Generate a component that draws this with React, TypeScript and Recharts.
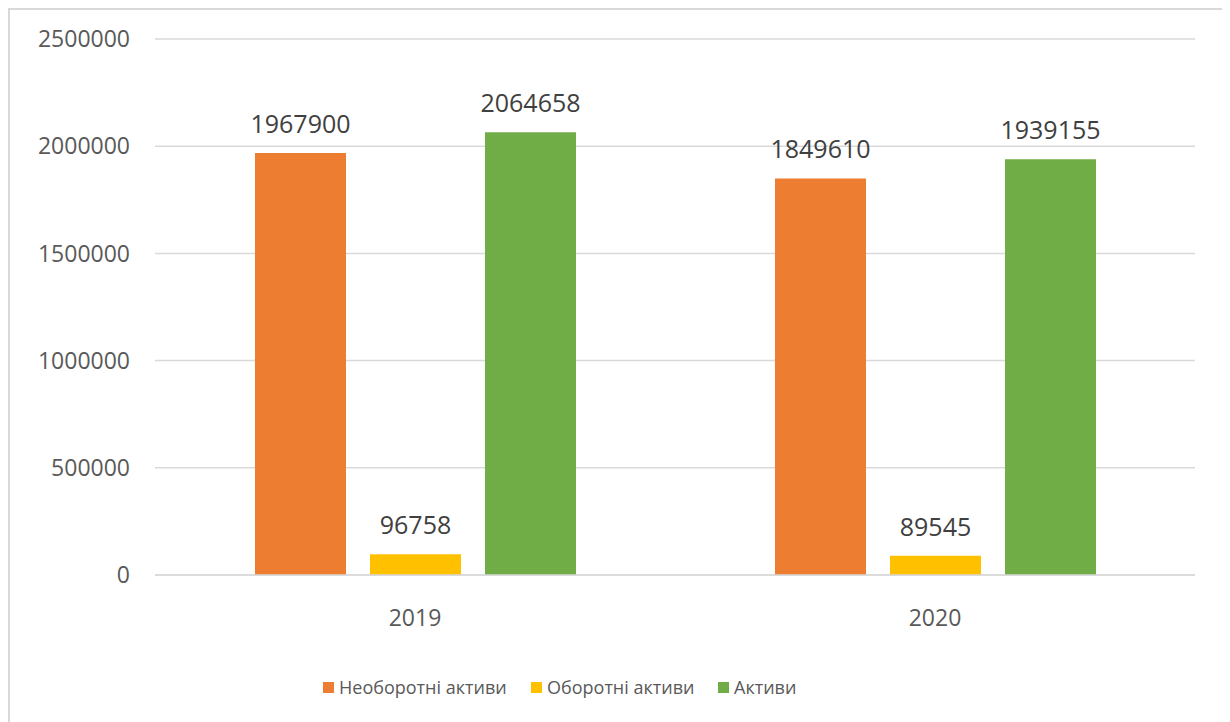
import React from 'react';
import { BarChart, Bar, XAxis, YAxis, CartesianGrid, Legend, LabelList } from 'recharts';

const categories = ['2019', '2020'];
const seriesNames = ['Необоротні активи', 'Оборотні активи', 'Активи'];
const nonCurrent = [1967900, 1849610];
const current = [96758, 89545];
const total = [2064658, 1939155];
const yTicks = [0, 500000, 1000000, 1500000, 2000000, 2500000];
const colors = ['#ED7D31', '#FFC000', '#70AD47'];

const data = categories.map((c, i) => ({
  year: c,
  s0: nonCurrent[i],
  s1: current[i],
  s2: total[i],
}));

const FONT = '"Open Sans", "Noto Sans", sans-serif';

const legendWidths = [208, 187, 120];

const renderLegend = (props: any) => {
  const { payload } = props;
  return (
    <div style={{ display: 'flex', fontFamily: FONT, fontSize: 18, color: '#595959' }}>
      {(payload || []).map((p: any, i: number) => (
        <div key={i} style={{ width: legendWidths[i], display: 'flex', alignItems: 'center' }}>
          <span style={{ display: 'inline-block', width: 11, height: 11, background: p.color, marginRight: 5 }} />
          <span style={{ lineHeight: '24px', whiteSpace: 'nowrap' }}>{p.value}</span>
        </div>
      ))}
    </div>
  );
};

export default function App() {
  return (
    <div style={{ width: 1212, height: 720, border: '2px solid #d9d9d9', background: '#fff' }}>
      <BarChart
        width={1212}
        height={720}
        data={data}
        margin={{ top: 29, right: 27, left: 0, bottom: 71 }}
        barSize={91}
        barGap={24}
      >
        <CartesianGrid vertical={false} stroke="#d9d9d9" strokeWidth={1.5} />
        <XAxis
          dataKey="year"
          axisLine={{ stroke: '#d9d9d9', strokeWidth: 1.5 }}
          tickLine={false}
          tickSize={0}
          tickMargin={35}
          height={60}
          tick={{ fill: '#595959', fontSize: 23, fontFamily: FONT }}
        />
        <YAxis
          domain={[0, 2500000]}
          ticks={yTicks}
          axisLine={false}
          tickLine={false}
          tickSize={0}
          tickMargin={25}
          width={145}
          interval={0}
          tick={{ fill: '#595959', fontSize: 23, fontFamily: FONT }}
        />
        <Legend
          verticalAlign="bottom"
          content={renderLegend}
          itemSorter="dataKey"
          height={24}
          wrapperStyle={{ left: 313, bottom: 'auto', top: 665, width: 600 }}
        />
        {['s0', 's1', 's2'].map((k, i) => (
          <Bar key={k} dataKey={k} name={seriesNames[i]} fill={colors[i]} isAnimationActive={false}>
            <LabelList
              dataKey={k}
              position="top"
              offset={20}
              fill="#404040"
              fontSize={25}
              fontFamily={FONT}
            />
          </Bar>
        ))}
      </BarChart>
    </div>
  );
}
